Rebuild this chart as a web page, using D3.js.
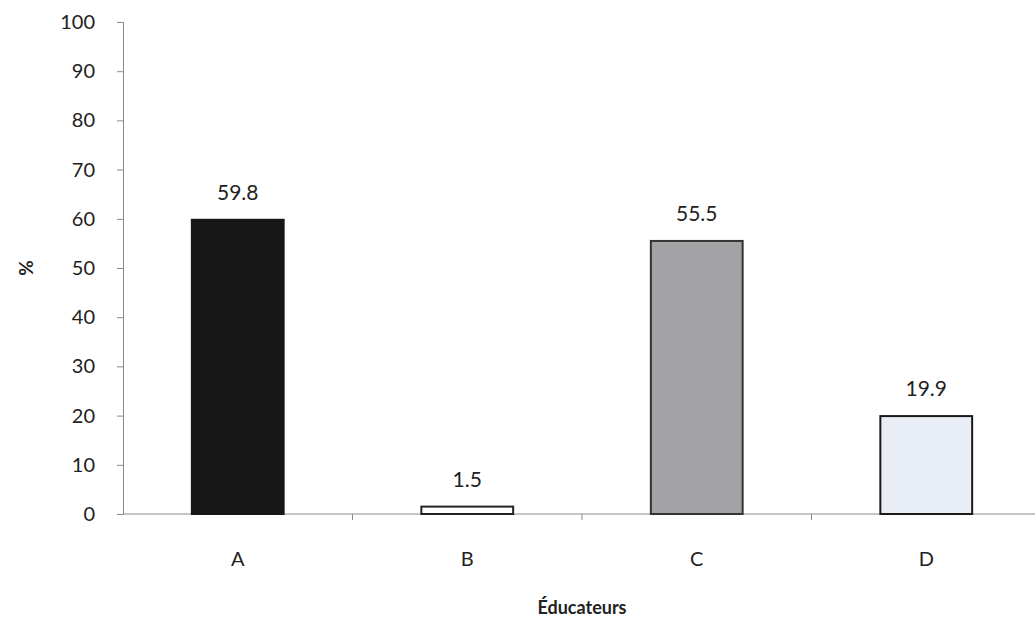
<!DOCTYPE html>
<html>
<head>
<meta charset="utf-8">
<script src="https://cdn.jsdelivr.net/npm/d3@7/dist/d3.min.js"></script>
<style>
  html, body { margin: 0; padding: 0; background: #fff; }
  svg { display: block; }
  text { font-family: Lato, "Open Sans", sans-serif; fill: #222; }
</style>
</head>
<body>
<svg id="chart" width="1035" height="625"></svg>
<script>
// Share of respondents by educator group
const categories = ["A", "B", "C", "D"];
const values = [59.8, 1.5, 55.5, 19.9];
const labels = ["59.8", "1.5", "55.5", "19.9"];
const fills = ["#171717", "#ffffff", "#a3a3a5", "#e9eef6"];
const strokes = ["#171717", "#222222", "#333333", "#1a1a1a"];
const yTicks = [0, 10, 20, 30, 40, 50, 60, 70, 80, 90, 100];

const svg = d3.select("#chart");
const plotLeft = 123, plotRight = 1041, plotTop = 22, plotBottom = 514;

const x = d3.scaleBand().domain(categories).range([plotLeft, plotRight]).paddingInner(0.6).paddingOuter(0.3);
const xOuter = d3.scaleBand().domain(categories).range([plotLeft, plotRight]);
const y = d3.scaleLinear().domain([0, 100]).range([plotBottom, plotTop]);

// Y axis
const yAxis = svg.append("g").attr("transform", `translate(${plotLeft},0)`)
  .call(d3.axisLeft(y).tickValues(yTicks).tickSize(6).tickPadding(22));
yAxis.select(".domain").attr("stroke", "#8a8a8a");
yAxis.selectAll(".tick line").attr("stroke", "#8a8a8a");
yAxis.selectAll(".tick text").attr("font-size", 20).attr("fill", "#222")
  .attr("font-family", "Lato, 'Open Sans', sans-serif");

// X axis line with ticks at the category boundaries
const xg = svg.append("g");
xg.append("line").attr("x1", plotLeft).attr("x2", plotRight).attr("y1", plotBottom).attr("y2", plotBottom)
  .attr("stroke", "#8a8a8a");
xg.selectAll("line.tk").data(categories.slice(1)).enter().append("line")
  .attr("class", "tk")
  .attr("x1", d => xOuter(d)).attr("x2", d => xOuter(d))
  .attr("y1", plotBottom).attr("y2", plotBottom + 6)
  .attr("stroke", "#8a8a8a");
xg.selectAll("text.cat").data(categories).enter().append("text")
  .attr("class", "cat")
  .attr("x", d => xOuter(d) + xOuter.bandwidth() / 2)
  .attr("y", 566)
  .attr("text-anchor", "middle")
  .attr("font-size", 20)
  .text(d => d);

// Bars
svg.selectAll("rect.bar").data(categories).enter().append("rect")
  .attr("class", "bar")
  .attr("x", d => x(d))
  .attr("width", x.bandwidth())
  .attr("y", (d, i) => y(values[i]))
  .attr("height", (d, i) => y(0) - y(values[i]))
  .attr("fill", (d, i) => fills[i])
  .attr("stroke", (d, i) => strokes[i])
  .attr("stroke-width", 2);

// Value labels
svg.selectAll("text.val").data(categories).enter().append("text")
  .attr("class", "val")
  .attr("x", d => x(d) + x.bandwidth() / 2)
  .attr("y", (d, i) => y(values[i]) - 20)
  .attr("text-anchor", "middle")
  .attr("font-size", 21)
  .text((d, i) => labels[i]);

// Axis titles
svg.append("text")
  .attr("transform", `translate(33,${(plotTop + plotBottom) / 2}) rotate(-90)`)
  .attr("text-anchor", "middle")
  .attr("font-size", 19)
  .attr("font-weight", "bold")
  .text("%");

svg.append("text")
  .attr("x", 582)
  .attr("y", 614)
  .attr("text-anchor", "middle")
  .attr("font-size", 18)
  .attr("font-weight", "bold")
  .text("Éducateurs");
</script>
</body>
</html>
